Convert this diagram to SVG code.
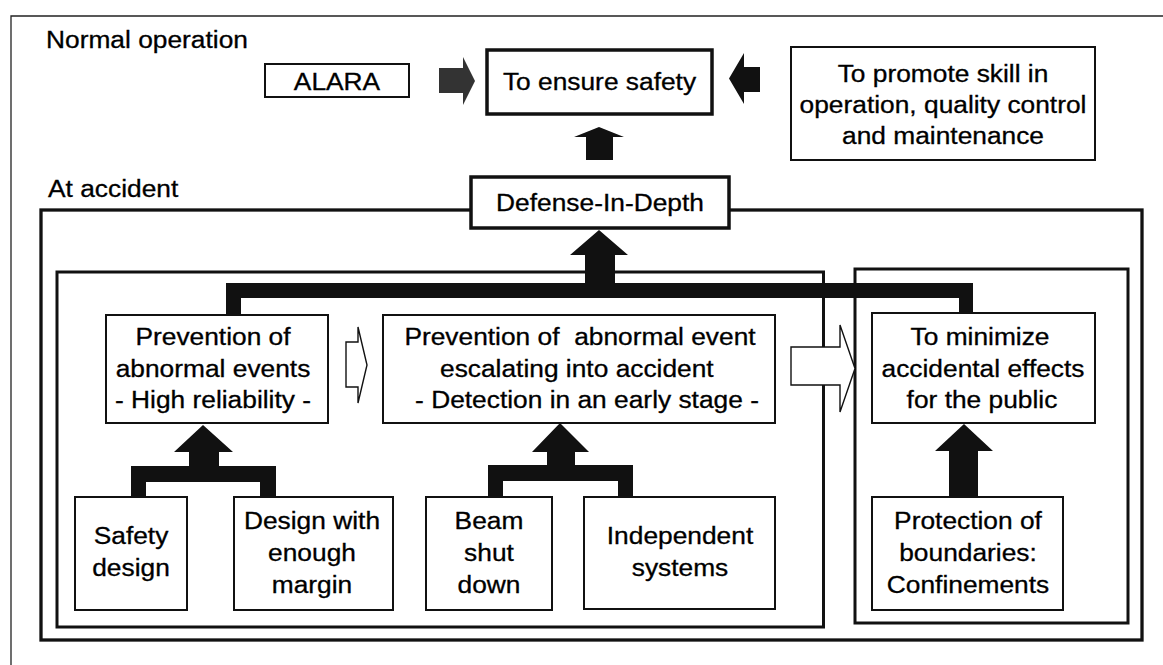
<svg xmlns="http://www.w3.org/2000/svg" width="1163" height="665" viewBox="0 0 1163 665">
<style>
text{font-family:"Liberation Sans",Arial,Helvetica,sans-serif;font-size:23.3px;fill:#000;stroke:#000;stroke-width:0.3}
.c{text-anchor:middle}
.box{fill:#fff;stroke:#111;stroke-width:2}
.tbox{fill:#fff;stroke:#111;stroke-width:3.5}
.frame{fill:none;stroke:#111;stroke-width:3.3}
.frame2{fill:none;stroke:#111;stroke-width:3}
.solid{fill:#111;stroke:none}
.grey{fill:#333;stroke:none}
.hollow{fill:#fff;stroke:#111;stroke-width:1.4;stroke-linejoin:miter}
</style>
<rect width="1163" height="665" fill="#fff"/>
<g id="page-frame"><path d="M11,665 V16 H1163" fill="none" stroke="#222" stroke-width="1.3"/></g>
<text transform="matrix(1.13 0 0 1 46 48)">Normal operation</text>
<text transform="matrix(1.13 0 0 1 48 197)">At accident</text>
<g id="accident-frame"><rect class="frame" x="41" y="210" width="1101" height="430"/></g>
<g id="frame-left"><rect class="frame2" x="57" y="272" width="766.5" height="355"/></g>
<g id="frame-right"><rect class="frame2" x="855" y="269" width="273" height="354"/></g>
<g id="connectors">
<path class="grey" d="M439,68 H463 V57 L475,81 L463,105 V93 H439 Z"/>
<path class="solid" d="M760,67 H744 V53 L729,78.5 L744,104 V92 H760 Z"/>
<path class="solid" d="M599,127 L624,137 H613 V160 H586 V137 H574 Z"/>
<path class="solid" d="M599,230 L628,255 H615 V283 H973 V313 H959 V298 H241 V315 H226 V283 H585 V255 H570 Z"/>
<path class="solid" d="M203,425 L233,452 H219 V466 H276 V497 H260 V482 H146 V497 H131 V466 H189 V452 H174 Z"/>
<path class="solid" d="M560,423 L589,452 H575 V465 H633 V497 H618 V481 H503 V497 H488 V465 H547 V452 H532 Z"/>
<path class="solid" d="M964,424 L993,451 H978 V497 H949 V451 H935 Z"/>
<path class="hollow" d="M346,342 H358 V327 L367,365 L358,403 V387 H346 Z"/>
<path class="hollow" d="M791,347 H840 V325 L855,368.5 L840,412 V385 H791 Z"/>
</g>
<g id="alara"><rect class="box" x="265" y="64" width="144" height="33"/><text class="c" transform="matrix(1.13 0 0 1 337 90)">ALARA</text></g>
<g id="ensure-safety"><rect class="tbox" x="487" y="50" width="225" height="64"/><text class="c" transform="matrix(1.13 0 0 1 599.5 90)">To ensure safety</text></g>
<g id="promote"><rect class="box" x="791" y="47" width="304" height="113"/>
<text class="c" transform="matrix(1.13 0 0 1 943 82)">To promote skill in</text>
<text class="c" transform="matrix(1.13 0 0 1 943 113)">operation, quality control</text>
<text class="c" transform="matrix(1.13 0 0 1 943 144)">and maintenance</text></g>
<g id="defense-in-depth"><rect class="tbox" x="471" y="177" width="258" height="51"/><text class="c" transform="matrix(1.13 0 0 1 600 211)">Defense-In-Depth</text></g>
<g id="prevention-abnormal"><rect class="box" x="106" y="315" width="222" height="108"/>
<text class="c" transform="matrix(1.13 0 0 1 213 345)">Prevention of</text>
<text class="c" transform="matrix(1.13 0 0 1 213 377)">abnormal events</text>
<text class="c" transform="matrix(1.13 0 0 1 213 408)">- High reliability -</text></g>
<g id="prevention-escalating"><rect class="box" x="383" y="315" width="392" height="108"/>
<text class="c" transform="matrix(1.13 0 0 1 580 345)" xml:space="preserve" style="white-space:pre">Prevention of  abnormal event</text>
<text transform="matrix(1.13 0 0 1 440 377)">escalating into accident</text>
<text class="c" transform="matrix(1.13 0 0 1 587 408)">- Detection in an early stage -</text></g>
<g id="minimize"><rect class="box" x="872" y="313" width="223" height="110"/>
<text class="c" transform="matrix(1.13 0 0 1 980 345)">To minimize</text>
<text class="c" transform="matrix(1.13 0 0 1 983 377)">accidental effects</text>
<text class="c" transform="matrix(1.13 0 0 1 982 408)">for the public</text></g>
<g id="safety-design"><rect class="box" x="75" y="497" width="112" height="113"/>
<text class="c" transform="matrix(1.13 0 0 1 131 544)">Safety</text>
<text class="c" transform="matrix(1.13 0 0 1 131 576)">design</text></g>
<g id="design-margin"><rect class="box" x="234" y="497" width="159" height="113"/>
<text class="c" transform="matrix(1.13 0 0 1 312 529)">Design with</text>
<text class="c" transform="matrix(1.13 0 0 1 312 561)">enough</text>
<text class="c" transform="matrix(1.13 0 0 1 312 593)">margin</text></g>
<g id="beam-shutdown"><rect class="box" x="426" y="497" width="126" height="113"/>
<text class="c" transform="matrix(1.13 0 0 1 489 529)">Beam</text>
<text class="c" transform="matrix(1.13 0 0 1 489 561)">shut</text>
<text class="c" transform="matrix(1.13 0 0 1 489 593)">down</text></g>
<g id="independent"><rect class="box" x="584" y="497" width="191" height="112"/>
<text class="c" transform="matrix(1.13 0 0 1 680 544)">Independent</text>
<text class="c" transform="matrix(1.13 0 0 1 680 576)">systems</text></g>
<g id="protection"><rect class="box" x="872" y="497" width="191" height="113"/>
<text class="c" transform="matrix(1.13 0 0 1 968 529)">Protection of</text>
<text class="c" transform="matrix(1.13 0 0 1 968 561)">boundaries:</text>
<text class="c" transform="matrix(1.13 0 0 1 968 593)">Confinements</text></g>
</svg>
